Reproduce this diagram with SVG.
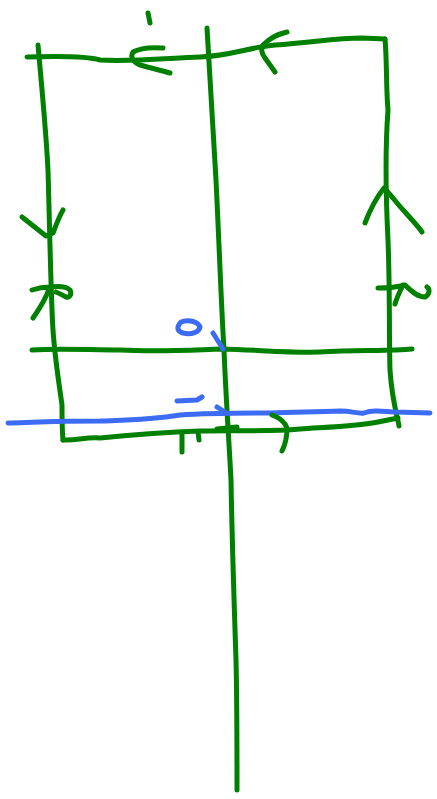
<svg xmlns="http://www.w3.org/2000/svg" width="437" height="799" viewBox="0 0 437 799">
<style>
.g{fill:none;stroke:#008000;stroke-width:5;stroke-linecap:round;stroke-linejoin:round}
.b{fill:none;stroke:#3c6cf5;stroke-width:5;stroke-linecap:round;stroke-linejoin:round}
</style>
<rect width="437" height="799" fill="#fff"/>
<g id="connectors">
<path class="g" d="M27,57 C60,56 90,57 100,60 C130,62 170,58 200,57 C230,56 250,47 275,45 C310,43 335,38 362,38 L385,39"/>
<path class="g" d="M385,39 C387,60 386,90 388,110 C385,150 386,200 388,240 C390,290 389,340 390,370 C392,400 397,415 399,426"/>
<path class="g" d="M38,45 C42,90 46,130 48,170 C50,240 51,300 53,330 C55,360 60,390 62,405 C62,420 62,430 63,440"/>
<path class="g" d="M63,440 C75,441 85,437 100,438 C140,434 170,432 200,431 C240,430 270,432 300,429 C330,427 360,426 378,422 L398,418"/>
<path class="g" d="M207,28 C210,80 213,130 216,180 C219,240 221,300 224,350 C226,400 229,440 231,480 C232,540 234,600 236,660 C237,700 237,750 237,790"/>
<path class="g" d="M32,350 C60,348 90,350 120,350 C160,352 190,350 222,349 C260,350 290,353 320,352 C360,350 390,351 412,349"/>
<path class="b" d="M8,423 C40,422 60,421 100,421 C130,420 150,420 180,415 C210,413 240,413 270,413 C300,412 320,412 340,411 C352,411 358,414 364,413 C372,410 380,411 395,412 L430,413"/>
</g>
<g id="arrow-top-left"><path class="g" d="M163,48 C150,47 140,48 133,52 C130,57 133,62 140,65 C150,68 160,70 170,73"/></g>
<g id="tick-top"><path class="g" d="M148,13 L150,23"/></g>
<g id="arrow-top-right"><path class="g" d="M287,32 C278,34 270,38 263,45 C260,50 262,54 265,58 L275,72"/></g>
<g id="arrow-left"><path class="g" d="M22,217 L46,236 L53,233 C56,225 60,215 63,210"/></g>
<g id="mark-left"><path class="g" d="M32,290 C38,288 44,287 50,287 C58,286 66,286 70,290 C72,294 70,298 66,297 C62,295 59,293 56,292 M49,289 C46,298 40,308 33,318"/></g>
<g id="arrow-right"><path class="g" d="M365,223 C370,210 376,198 384,188 C392,196 398,205 405,212 C412,220 418,226 422,232"/></g>
<g id="mark-right"><path class="g" d="M378,288 C388,288 398,287 405,285 C412,292 418,297 425,297 C430,294 430,289 427,287 M403,285 C400,291 397,297 395,304"/></g>
<g id="blue-o"><path class="b" d="M181,322 C190,319 198,322 200,327 C199,332 192,335 183,333 C176,331 177,326 181,322 Z"/></g>
<g id="blue-tick-top"><path class="b" d="M213,333 L223,349"/></g>
<g id="blue-dash"><path class="b" d="M177,401 L197,400 L202,397"/></g>
<g id="blue-tick-bottom"><path class="b" d="M217,407 L225,412"/></g>
<g id="cross-bottom"><path class="g" d="M217,429 L237,427"/></g>
<g id="mark-bottom-left"><path class="g" d="M182,435 L182,452 M198,432 L199,440"/></g>
<g id="arrow-bottom-right"><path class="g" d="M272,415 C280,418 285,422 287,428 C287,438 285,445 282,451"/></g>
</svg>
